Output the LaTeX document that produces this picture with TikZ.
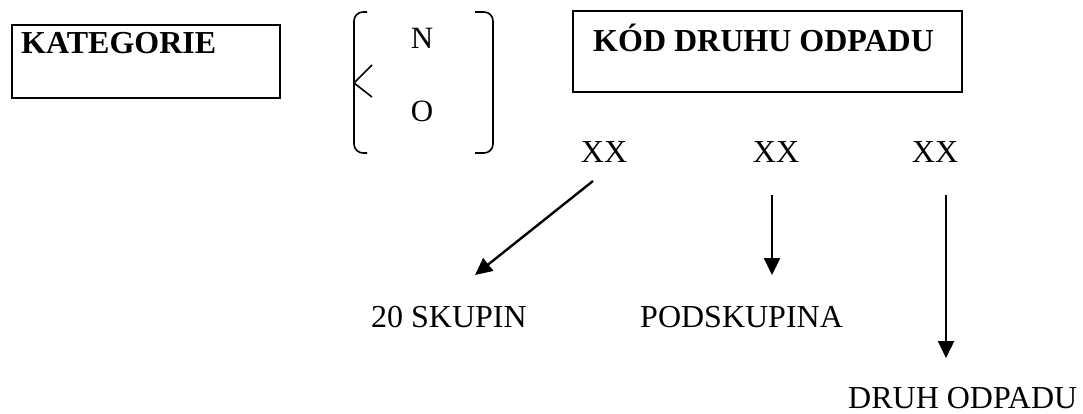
\documentclass[tikz,border=0pt]{standalone}
\usepackage{fontspec}
\setmainfont{Liberation Serif}
\usetikzlibrary{arrows.meta}
\tikzset{
  frame/.style={draw, line width=2pt, inner sep=0pt, anchor=north west},
  label/.style={inner sep=0pt, font=\fontsize{32}{38}\selectfont},
  title/.style={label, font=\fontsize{32}{38}\selectfont\bfseries},
  letter/.style={inner sep=0pt, font=\fontsize{31}{36}\selectfont},
  bracket/.style={line width=1.6pt, rounded corners=9pt},
  pointer/.style={line width=2.4pt, -{Triangle[length=17pt,width=16pt]}}
}
\begin{document}
\begin{tikzpicture}[x=1pt,y=-1pt]
  \useasboundingbox (0,0) rectangle (1083,414);

  % category box
  \node[frame, minimum width=268pt, minimum height=73pt] (katbox) at (11,24) {};
  \node[title, anchor=base west] (kat) at (21,54) {KATEGORIE};

  % N / O choice in brackets
  \draw[bracket] (367,12) -- (354,12) -- (354,153) -- (367,153);
  \draw[bracket] (475,12) -- (493,12) -- (493,153) -- (475,153);
  \draw[line width=1.6pt] (372,65) -- (354,83) -- (372,97);
  \node[letter, anchor=base] (n) at (422,49) {N};
  \node[letter, anchor=base] (o) at (422,122) {O};

  % waste code box
  \node[frame, minimum width=389pt, minimum height=81pt] (kodbox) at (572,10) {};
  \node[title, anchor=base west] (kod) at (593,52) {KÓD DRUHU ODPADU};

  % code digit pairs
  \node[label, anchor=base] (xa) at (604,163) {XX};
  \node[label, anchor=base] (xb) at (776,163) {XX};
  \node[label, anchor=base] (xc) at (935,163) {XX};

  % meanings
  \node[label, anchor=base west] (skup) at (371,327) {20 SKUPIN};
  \node[label, anchor=base west] (podskup) at (640,327) {PODSKUPINA};
  \node[label, anchor=base west] (druh) at (848,408) {DRUH ODPADU};

  % arrow end points
  \coordinate (sa) at (593,181);
  \coordinate (ta) at (475,275);
  \coordinate (sb) at (772,195);
  \coordinate (tb) at (772,275);
  \coordinate (sc) at (946,195);
  \coordinate (tc) at (946,358);

  \draw[pointer] (sa) -- (ta);
  \draw[pointer] (sb) -- (tb);
  \draw[pointer] (sc) -- (tc);
\end{tikzpicture}
\end{document}
